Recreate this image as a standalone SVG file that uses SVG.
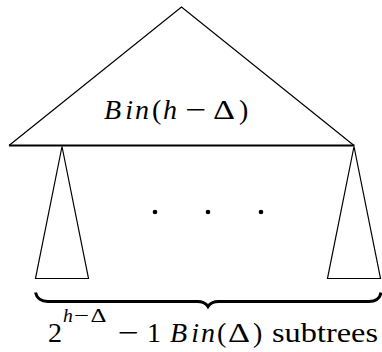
<svg xmlns="http://www.w3.org/2000/svg" width="382" height="352" viewBox="0 0 382 352">
<style>
text { font-family: "Liberation Serif", "DejaVu Serif", serif; font-size: 28px; fill: #000; }
.s { font-size: 19.6px; }
.i { font-style: italic; }
.tree { fill: none; stroke: #000; stroke-width: 1.2; stroke-linejoin: miter; }
.base { stroke: #000; stroke-width: 2; }
.brace { fill: none; stroke: #000; stroke-width: 3; stroke-linecap: butt; }
</style>
<rect width="382" height="352" fill="#fff"/>
<g id="big-tree">
  <polyline class="tree" points="9,145.5 181.5,7 354,145.5"/>
  <line class="base" x1="9" y1="145.5" x2="354.5" y2="145.5"/>
  <text y="119"><tspan class="i" x="104">B</tspan><tspan class="i" x="125.3">i</tspan><tspan class="i" x="135">n</tspan><tspan x="152">(</tspan><tspan class="i" x="163">h</tspan><tspan x="185.5" textLength="21" lengthAdjust="spacingAndGlyphs">−</tspan><tspan x="213" textLength="22" lengthAdjust="spacingAndGlyphs">Δ</tspan><tspan x="239">)</tspan></text>
</g>
<g id="left-subtree">
  <polygon class="tree" points="62,146.5 35.5,278.5 88.5,278.5"/>
</g>
<g id="right-subtree">
  <polygon class="tree" points="354,146.5 327.5,278.5 380.5,278.5"/>
</g>
<g id="dots">
  <circle cx="155" cy="212" r="2.3"/>
  <circle cx="208" cy="212" r="2.3"/>
  <circle cx="261" cy="212" r="2.3"/>
</g>
<g id="connectors">
  <path class="brace" d="M35.5,292.5 Q37.5,301.5 48,301.5 L197,301.5 Q205,301.5 208,306.5 Q211,301.5 219,301.5 L369,301.5 Q379.5,301.5 381,292.5"/>
</g>
<g id="label-bottom">
  <text y="342"><tspan x="48">2</tspan><tspan class="s i" x="63" y="321.5">h</tspan><tspan class="s" x="74" y="321.5" textLength="15" lengthAdjust="spacingAndGlyphs">−</tspan><tspan class="s" x="90.5" y="321.5" textLength="16" lengthAdjust="spacingAndGlyphs">Δ</tspan><tspan x="118" y="342" textLength="21" lengthAdjust="spacingAndGlyphs">−</tspan><tspan x="147">1</tspan><tspan class="i" x="170">B</tspan><tspan class="i" x="191.3">i</tspan><tspan class="i" x="201">n</tspan><tspan x="217">(</tspan><tspan x="228" textLength="22" lengthAdjust="spacingAndGlyphs">Δ</tspan><tspan x="253">)</tspan><tspan x="272" textLength="106" lengthAdjust="spacingAndGlyphs">subtrees</tspan></text>
</g>
</svg>
